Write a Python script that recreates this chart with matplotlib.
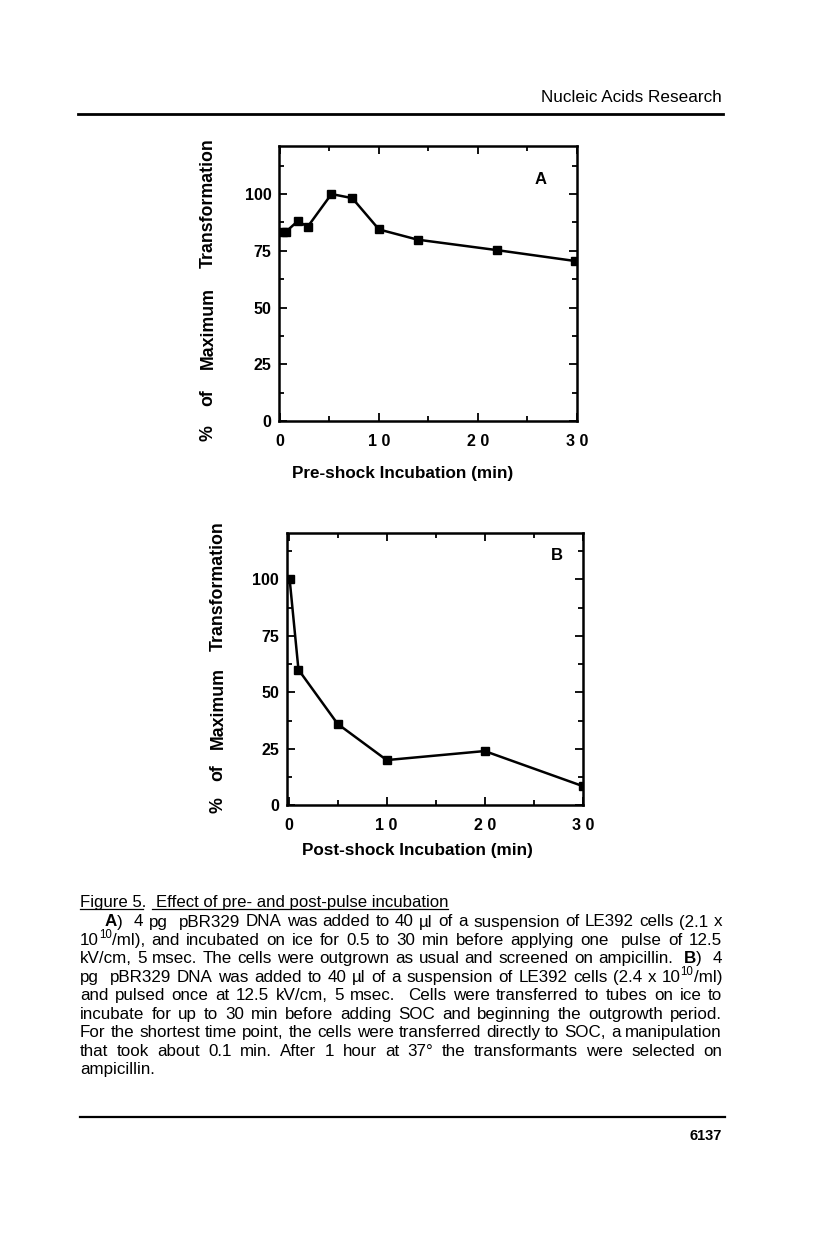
import re
import matplotlib
matplotlib.use('Agg')
import matplotlib.pyplot as plt
from matplotlib.lines import Line2D
from matplotlib.ticker import MultipleLocator
from matplotlib import font_manager

# ---------------- data ----------------
a_time = [0.3, 0.6, 1.8, 2.8, 5.2, 7.3, 10.0, 13.9, 21.9, 29.8]
a_pct = [83.4, 83.4, 88.1, 85.6, 100.0, 98.2, 84.4, 79.9, 75.3, 70.5]

b_time = [0.1, 1.0, 5.0, 10.0, 20.0, 30.0]
b_pct = [100.0, 60.0, 36.0, 20.0, 24.0, 8.5]

x_ticks = [0, 10, 20, 30]
x_tick_labels = ['0', '1 0', '2 0', '3 0']
y_ticks = [0, 25, 50, 75, 100]
y_tick_labels = ['0', '25', '50', '75', '100']

y_label_words = ['%', 'of', 'Maximum', 'Transformation']
a_xlabel = 'Pre-shock Incubation (min)'
b_xlabel = 'Post-shock Incubation (min)'

header = 'Nucleic Acids Research'
page_no = '6137'
fig_title_1 = 'Figure 5.'
fig_title_2 = 'Effect of pre- and post-pulse incubation'
caption_lines = [
    '**A**)  4 pg  pBR329 DNA was added to 40 µl of a suspension of LE392 cells (2.1 x',
    '10^{10}/ml), and incubated on ice for 0.5 to 30 min before applying one  pulse of 12.5',
    'kV/cm, 5 msec. The cells were outgrown as usual and screened on ampicillin.  **B**)  4',
    'pg  pBR329 DNA was added to 40 µl of a suspension of LE392 cells (2.4 x 10^{10}/ml)',
    'and pulsed once at 12.5 kV/cm, 5 msec.  Cells were transferred to tubes on ice to',
    'incubate for up to 30 min before adding SOC and beginning the outgrowth period.',
    'For the shortest time point, the cells were transferred directly to SOC, a manipulation',
    'that took about 0.1 min. After 1 hour at 37° the transformants were selected on',
    'ampicillin.',
]

# ---------------- figure ----------------
W, H = 816, 1245
plt.rcParams['font.family'] = ['Liberation Sans', 'DejaVu Sans']
fig = plt.figure(figsize=(W / 100, H / 100), dpi=100)
fig.patch.set_facecolor('white')
r = fig.canvas.get_renderer()


def fx(x):
    return x / W


def fy(y):
    return 1 - y / H


def add_ax(l, t, rr, b):
    return fig.add_axes([fx(l), fy(b), (rr - l) / W, (b - t) / H])


def style(ax, xlim, ylim):
    ax.set_xlim(*xlim)
    ax.set_ylim(*ylim)
    for s in ax.spines.values():
        s.set_linewidth(1.8)
    ax.set_xticks(x_ticks, x_tick_labels, fontsize=11.5, fontweight='bold')
    ax.set_yticks(y_ticks, y_tick_labels, fontsize=11.5, fontweight='bold')
    ax.xaxis.set_minor_locator(MultipleLocator(5))
    ax.yaxis.set_minor_locator(MultipleLocator(12.5))
    ax.tick_params(which='both', direction='in', top=True, right=True, width=1.3)
    ax.tick_params(which='major', length=6)
    ax.tick_params(which='minor', length=3.5)
    ax.tick_params(axis='x', pad=9.5)
    ax.tick_params(axis='y', pad=5.5)


def vjustify(words, x, ybot, ytop, fs):
    texts = [fig.text(fx(x), fy(ybot), w, rotation=90, ha='center', va='bottom',
                      fontsize=fs, fontweight='bold') for w in words]
    hs = [t.get_window_extent(r).height for t in texts]
    gap = ((ybot - ytop) - sum(hs)) / (len(words) - 1)
    y = ybot
    for t, h in zip(texts, hs):
        t.set_y(fy(y))
        y -= h + gap


# Panel A
axA = add_ax(279, 145.7, 577, 421)
style(axA, (-0.1, 30), (0, 121.3))
axA.plot(a_time, a_pct, color='black', lw=1.8, marker='s', ms=5.5)
axA.text(0.879, 0.879, 'A', transform=axA.transAxes, ha='center', va='center',
         fontsize=12, fontweight='bold')
axA.set_xlabel(a_xlabel, fontsize=12.3, fontweight='bold')
axA.xaxis.set_label_coords((403 - 279) / 298, (421 - 473) / 275.3)
axA.xaxis.label.set_va('center')
vjustify(y_label_words, 208, 441, 138, 12.8)

# Panel B
axB = add_ax(286.7, 532.7, 582.7, 805.3)
style(axB, (-0.2, 30), (0, 120.6))
axB.plot(b_time, b_pct, color='black', lw=1.8, marker='s', ms=5.5)
axB.text(0.912, 0.916, 'B', transform=axB.transAxes, ha='center', va='center',
         fontsize=12, fontweight='bold')
axB.set_xlabel(b_xlabel, fontsize=12.3, fontweight='bold')
axB.xaxis.set_label_coords((417 - 286.7) / 296, (805.3 - 851) / 272.6)
axB.xaxis.label.set_va('center')
vjustify(y_label_words, 218, 813, 521, 12.8)

# Header / footer
th = fig.text(fx(722), fy(101.7), header, ha='right', va='baseline', fontsize=12.5)
th.set_fontsize(12.5 * 181 / th.get_window_extent(r).width)
fig.add_artist(Line2D([fx(78), fx(723)], [fy(114), fy(114)], lw=2.0, color='black'))
fig.add_artist(Line2D([fx(80), fx(725)], [fy(1116.7), fy(1116.7)], lw=1.6, color='black'))
fig.text(fx(722), fy(1140), page_no, ha='right', va='baseline', fontsize=10.5, fontweight='bold')

# Figure title (narrow font if available)
names = {f.name for f in font_manager.fontManager.ttflist}
narrow = 'Liberation Sans Narrow' if 'Liberation Sans Narrow' in names else 'Liberation Sans'
t2 = fig.text(fx(448), fy(907.5), fig_title_2, ha='right', va='baseline', fontsize=10,
              family=[narrow, 'DejaVu Sans'])
t2.set_fontsize(10 * 292 / t2.get_window_extent(r).width)
fig.text(fx(80), fy(907.5), fig_title_1, ha='left', va='baseline', fontsize=t2.get_fontsize(),
         family=[narrow, 'DejaVu Sans'])
fig.add_artist(Line2D([fx(80), fx(143)], [fy(909.3), fy(909.3)], lw=0.9, color='black'))
fig.add_artist(Line2D([fx(152), fx(448)], [fy(909.3), fy(909.3)], lw=0.9, color='black'))

# Caption body (justified)
SEG = re.compile(r'(\*\*.+?\*\*|\^\{.+?\})')


def make_word(word, fs):
    arts = []
    for s in SEG.split(word):
        if not s:
            continue
        if s.startswith('**'):
            t = fig.text(0, 0, s[2:-2], fontsize=fs, fontweight='bold', ha='left', va='baseline')
            dy = 0
        elif s.startswith('^{'):
            t = fig.text(0, 0, s[2:-1], fontsize=fs * 0.68, ha='left', va='baseline')
            dy = fs * 0.42 * 100 / 72
        else:
            t = fig.text(0, 0, s, fontsize=fs, ha='left', va='baseline')
            dy = 0
        arts.append([t, t.get_window_extent(r).width, dy])
    return arts


def parse(line):
    parts = line.split(' ')
    words, weights = [], []
    pending = 0
    for p in parts:
        if p == '':
            pending += 1
            continue
        words.append(p)
        weights.append(pending + 1 if words[:-1] else 0)
        pending = 0
    return words, weights


X0, X1 = 80, 722
indent = 105
base0, step = 926.5, 18.43

# choose font size so all justified lines fit with normal word spacing
fs0 = 10.0
ratios = []
for i, line in enumerate(caption_lines[:-1]):
    words, weights = parse(line)
    start = indent if i == 0 else X0
    tot = 0
    for w in words:
        for a in make_word(w, fs0):
            tot += a[1]
            a[0].remove()
    space = 0.278 * fs0 * 100 / 72
    tot += space * sum(weights)
    ratios.append((X1 - start) / tot)
fs = fs0 * min(ratios) * 0.995

for i, line in enumerate(caption_lines):
    words, weights = parse(line)
    start = indent if i == 0 else X0
    y = base0 + step * i
    wa = [make_word(w, fs) for w in words]
    widths = [sum(a[1] for a in arts) for arts in wa]
    if i < len(caption_lines) - 1:
        unit = ((X1 - start) - sum(widths)) / sum(weights)
    else:
        unit = 0.278 * fs * 100 / 72
    x = start
    for arts, wt, wd in zip(wa, weights, widths):
        x += unit * wt
        cx = x
        for t, w, dy in arts:
            t.set_position((fx(cx), fy(y - dy)))
            cx += w
        x += wd

fig.savefig('out.png', dpi=100, facecolor='white')
